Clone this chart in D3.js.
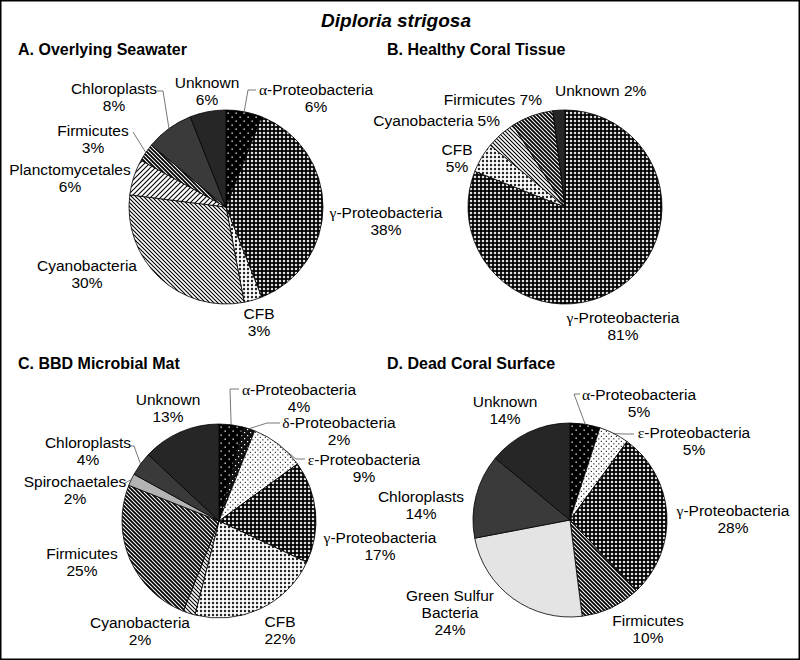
<!DOCTYPE html>
<html><head><meta charset="utf-8">
<script src="https://cdn.jsdelivr.net/npm/d3@7"></script>
<style>body{margin:0;background:#fff} text{font-family:"Liberation Sans",Arial,Helvetica,sans-serif;fill:#000}</style>
</head><body><svg id="chart" width="800" height="660"></svg>
<script>
// ---------- data ----------
const chartTitle = "Diploria strigosa";
const panelTitles = ["A. Overlying Seawater","B. Healthy Coral Tissue","C. BBD Microbial Mat","D. Dead Coral Surface"];

const categoriesA = ["α-Proteobacteria","γ-Proteobacteria","CFB","Cyanobacteria","Planctomycetales","Firmicutes","Chloroplasts","Unknown"];
const valuesA     = [6,38,3,30,6,3,8,6];

const categoriesB = ["γ-Proteobacteria","CFB","Cyanobacteria","Firmicutes","Unknown"];
const valuesB     = [81,5,5,7,2];

const categoriesC = ["α-Proteobacteria","δ-Proteobacteria","ε-Proteobacteria","γ-Proteobacteria","CFB","Cyanobacteria","Firmicutes","Spirochaetales","Chloroplasts","Unknown"];
const valuesC     = [4,2,9,17,22,2,25,2,4,13];

const categoriesD = ["α-Proteobacteria","ε-Proteobacteria","γ-Proteobacteria","Firmicutes","Green Sulfur Bacteria","Chloroplasts","Unknown"];
const valuesD     = [5,5,28,10,24,14,14];

// ---------- layout / style ----------
const R = 97;
const FS = "15.5px";
const panels = [
  {cats:categoriesA, vals:valuesA, cx:226, cy:207, tx:18, ty:55,
   labels:{
    "α-Proteobacteria":{x:316,y:95,leader:[[248,90],[256,90]]},
    "γ-Proteobacteria":{x:386,y:218},
    "CFB":{x:259,y:319},
    "Cyanobacteria":{x:87,y:271},
    "Planctomycetales":{x:70,y:175},
    "Firmicutes":{x:93,y:136,leader:[[133,132]]},
    "Chloroplasts":{x:114,y:94,leader:[[163,91],[157,91]]},
    "Unknown":{x:207,y:88}
   }},
  {cats:categoriesB, vals:valuesB, cx:565, cy:207, tx:387, ty:55,
   labels:{
    "γ-Proteobacteria":{x:623,y:323},
    "CFB":{x:457,y:155},
    "Cyanobacteria":{x:500,y:126,one:true,anchor:"end"},
    "Firmicutes":{x:542,y:105,one:true,anchor:"end"},
    "Unknown":{x:555,y:96,one:true,anchor:"start"}
   }},
  {cats:categoriesC, vals:valuesC, cx:219, cy:521, tx:18, ty:369,
   labels:{
    "α-Proteobacteria":{x:299,y:395,leader:[[230,389],[239,389]]},
    "δ-Proteobacteria":{x:339,y:428,leader:[[267,423],[280,423]]},
    "ε-Proteobacteria":{x:364,y:465,leader:[[296,459],[305,459]]},
    "γ-Proteobacteria":{x:380,y:543},
    "CFB":{x:280,y:627},
    "Cyanobacteria":{x:140,y:628},
    "Firmicutes":{x:82,y:559},
    "Spirochaetales":{x:75,y:487,leader:[[125,483]]},
    "Chloroplasts":{x:88,y:448,leader:[[134,446],[130,446]]},
    "Unknown":{x:168,y:405}
   }},
  {cats:categoriesD, vals:valuesD, cx:570, cy:520, tx:387, ty:369,
   labels:{
    "α-Proteobacteria":{x:639,y:400,leader:[[574,394],[580,394]]},
    "ε-Proteobacteria":{x:694,y:438,leader:[[624,434],[634,434]]},
    "γ-Proteobacteria":{x:733,y:516},
    "Firmicutes":{x:648,y:626},
    "Green Sulfur Bacteria":{x:450,y:601,split:["Green Sulfur","Bacteria"]},
    "Chloroplasts":{x:421,y:502},
    "Unknown":{x:505,y:407}
   }}
];

const svg = d3.select("#chart");
const defs = svg.append("defs");

function pat(id, size, bg, draw){
  const p = defs.append("pattern").attr("id",id).attr("patternUnits","userSpaceOnUse")
    .attr("width",size).attr("height",size);
  p.append("rect").attr("width",size).attr("height",size).attr("fill",bg);
  draw(p);
}
// α : black with sparse white dots
pat("pAlpha",8,"#000",p=>{
  p.append("rect").attr("x",1.5).attr("y",1.5).attr("width",1.3).attr("height",1.3).attr("fill","#fff");
  p.append("rect").attr("x",5.5).attr("y",5.5).attr("width",1.3).attr("height",1.3).attr("fill","#fff");
});
// δ : black with denser white dots
pat("pDelta",6,"#111",p=>{
  p.append("rect").attr("x",1).attr("y",1).attr("width",1.2).attr("height",1.2).attr("fill","#fff");
  p.append("rect").attr("x",4).attr("y",4).attr("width",1.2).attr("height",1.2).attr("fill","#fff");
});
// ε : white with black dots
pat("pEps",5,"#fff",p=>{
  p.append("rect").attr("x",0.8).attr("y",0.8).attr("width",1.1).attr("height",1.1).attr("fill","#000");
  p.append("rect").attr("x",3.3).attr("y",3.3).attr("width",1.1).attr("height",1.1).attr("fill","#000");
});
// γ : dark diamond grid
pat("pGamma",4,"#000",p=>{
  p.append("path").attr("d","M2,0.5L3.5,2L2,3.5L0.5,2Z").attr("fill","#fff");
});
// CFB : light diamond grid
pat("pCFB",4,"#fff",p=>{
  p.append("path").attr("d","M2,0.6L3.4,2L2,3.4L0.6,2Z").attr("fill","#000");
});
// Cyanobacteria : thin downward diagonal
pat("pCyano",4,"#fff",p=>{
  p.append("path").attr("d","M-1,-1L5,5M-1,3L1,5M3,-1L5,1").attr("stroke","#000").attr("stroke-width",1.1);
});
// Planctomycetales : thin upward diagonal
pat("pPlanc",5,"#fff",p=>{
  p.append("path").attr("d","M-1,6L6,-1M-1,1L1,-1M4,6L6,4").attr("stroke","#000").attr("stroke-width",1.1);
});
// Firmicutes : wide dark downward diagonal
pat("pFirm",4,"#fff",p=>{
  p.append("path").attr("d","M-1,-1L5,5M-1,3L1,5M3,-1L5,1").attr("stroke","#000").attr("stroke-width",1.8);
});

const fills = {
  "α-Proteobacteria":"url(#pAlpha)",
  "δ-Proteobacteria":"url(#pDelta)",
  "ε-Proteobacteria":"url(#pEps)",
  "γ-Proteobacteria":"url(#pGamma)",
  "CFB":"url(#pCFB)",
  "Cyanobacteria":"url(#pCyano)",
  "Planctomycetales":"url(#pPlanc)",
  "Firmicutes":"url(#pFirm)",
  "Spirochaetales":"#b3b3b3",
  "Chloroplasts":"#3a3a3a",
  "Unknown":"#262626",
  "Green Sulfur Bacteria":"#e4e4e4"
};

// frame
svg.append("rect").attr("x",0.75).attr("y",0.75).attr("width",798.5).attr("height",658.5)
  .attr("fill","none").attr("stroke","#000").attr("stroke-width",1.5);

svg.append("text").attr("x",396).attr("y",27).attr("text-anchor","middle")
  .style("font-size","19px").style("font-weight","bold").style("font-style","italic").text(chartTitle);

const pie = d3.pie().sort(null).value(d=>d.v).startAngle(0).endAngle(2*Math.PI);
const arc = d3.arc().innerRadius(0).outerRadius(R);

function writeLine(t, str){
  const greek = /^[αγδε]/.test(str);
  if(greek){
    t.append("tspan").style("font-family",'"Liberation Serif","Times New Roman",serif').text(str[0]);
    t.append("tspan").text(str.slice(1));
  } else t.append("tspan").text(str);
}

panels.forEach((P,i)=>{
  svg.append("text").attr("x",P.tx).attr("y",P.ty)
    .style("font-size","16px").style("font-weight","bold").text(panelTitles[i]);
  const data = P.cats.map((c,k)=>({c, v:P.vals[k]}));
  const g = svg.append("g").attr("transform",`translate(${P.cx},${P.cy})`);
  const arcs = pie(data);
  g.selectAll("path").data(arcs).join("path")
    .attr("d",arc).attr("fill",d=>fills[d.data.c])
    .attr("stroke","#000").attr("stroke-width",0.8).attr("stroke-linejoin","round");

  arcs.forEach(a=>{
    const L = P.labels[a.data.c]; if(!L) return;
    const mid = (a.startAngle+a.endAngle)/2;
    const ex = P.cx + R*Math.sin(mid), ey = P.cy - R*Math.cos(mid);
    if(L.leader){
      const pts = [[ex,ey]].concat(L.leader);
      svg.append("path").attr("d",d3.line()(pts)).attr("fill","none")
        .attr("stroke","#555").attr("stroke-width",0.8);
    }
    let lines;
    const pct = a.data.v + "%";
    if(L.one) lines = [a.data.c + " " + pct];
    else if(L.split) lines = L.split.concat([pct]);
    else lines = [a.data.c, pct];
    lines.forEach((s,k)=>{
      const t = svg.append("text").attr("x",L.x).attr("y",L.y + k*17)
        .attr("text-anchor",L.anchor||"middle").style("font-size",FS);
      writeLine(t,s);
    });
  });
});
</script></body></html>
